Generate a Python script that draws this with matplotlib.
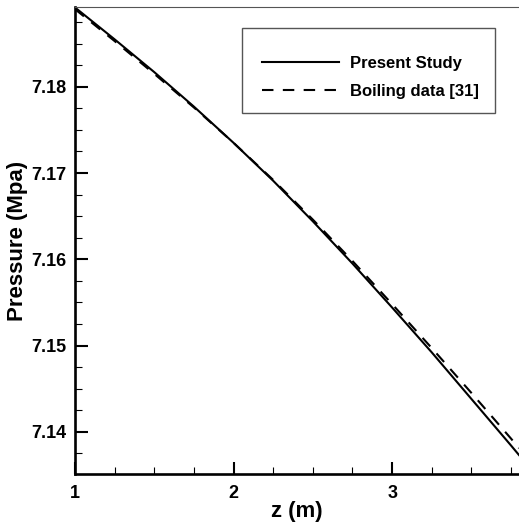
import matplotlib.pyplot as plt
from matplotlib.patches import Rectangle
from matplotlib.ticker import MultipleLocator

plt.rcParams['font.family'] = ['Liberation Sans', 'DejaVu Sans']
plt.rcParams['font.weight'] = 'bold'

# Dados
z_vals = [1.0, 1.25, 1.5, 1.75, 2.0, 2.25, 2.5, 2.75, 3.0, 3.25, 3.5, 3.75, 3.8]
p_present = [7.1892, 7.1855, 7.1817, 7.1777, 7.1735, 7.1691, 7.1644, 7.1595,
             7.1544, 7.1492, 7.1438, 7.1384, 7.1373]
p_boiling = [7.1890, 7.1853, 7.1815, 7.1776, 7.1735, 7.1692, 7.1646, 7.1598,
             7.1548, 7.1497, 7.1445, 7.1392, 7.1381]

fig = plt.figure(figsize=(5.19, 5.24), dpi=100)
ax = fig.add_axes([0.1445, 0.0954, 0.8555, 0.8912])

ax.plot(z_vals, p_present, color='black', lw=1.5, label='Present Study')
ax.plot(z_vals, p_boiling, color='black', lw=1.5, linestyle=(0, (5.5, 4.5)),
        label='Boiling data [31]')

ax.set_xlim(1, 3.8)
ax.set_ylim(7.1351, 7.18925)
ax.xaxis.set_major_locator(MultipleLocator(1))
ax.xaxis.set_minor_locator(MultipleLocator(0.25))
ax.yaxis.set_major_locator(MultipleLocator(0.01))
ax.yaxis.set_minor_locator(MultipleLocator(0.0025))
ax.yaxis.set_major_formatter(plt.FuncFormatter(lambda v, p: f'{v:.2f}'))

ax.tick_params(which='major', direction='in', length=9, width=1.5,
               labelsize=13, top=False, right=False)
ax.tick_params(which='minor', direction='in', length=5, width=0.8,
               top=False, right=False)
ax.tick_params(axis='y', which='major', pad=6)
ax.tick_params(axis='x', which='major', pad=8)

for side in ['left', 'bottom']:
    ax.spines[side].set_linewidth(1.9)
ax.spines['top'].set_linewidth(0.8)
ax.spines['top'].set_color('#555555')
ax.spines['right'].set_visible(False)

ax.set_xlabel('z (m)', fontsize=16, fontweight='bold', labelpad=-1)
ax.set_ylabel('Pressure (Mpa)', fontsize=16, fontweight='bold')
ax.yaxis.set_label_coords(-0.105, 0.5)

# Caixa da legenda
ax.add_patch(Rectangle((0.376, 0.773), 0.57, 0.182, transform=ax.transAxes,
                       fill=False, edgecolor='#555555', lw=1.0, zorder=3))
ax.legend(loc='center left', bbox_to_anchor=(0.421, 0.849), frameon=False,
          fontsize=12, handlelength=4.6, handletextpad=0.7,
          borderpad=0, borderaxespad=0, labelspacing=0.75)

fig.savefig('out.png', dpi=100)
